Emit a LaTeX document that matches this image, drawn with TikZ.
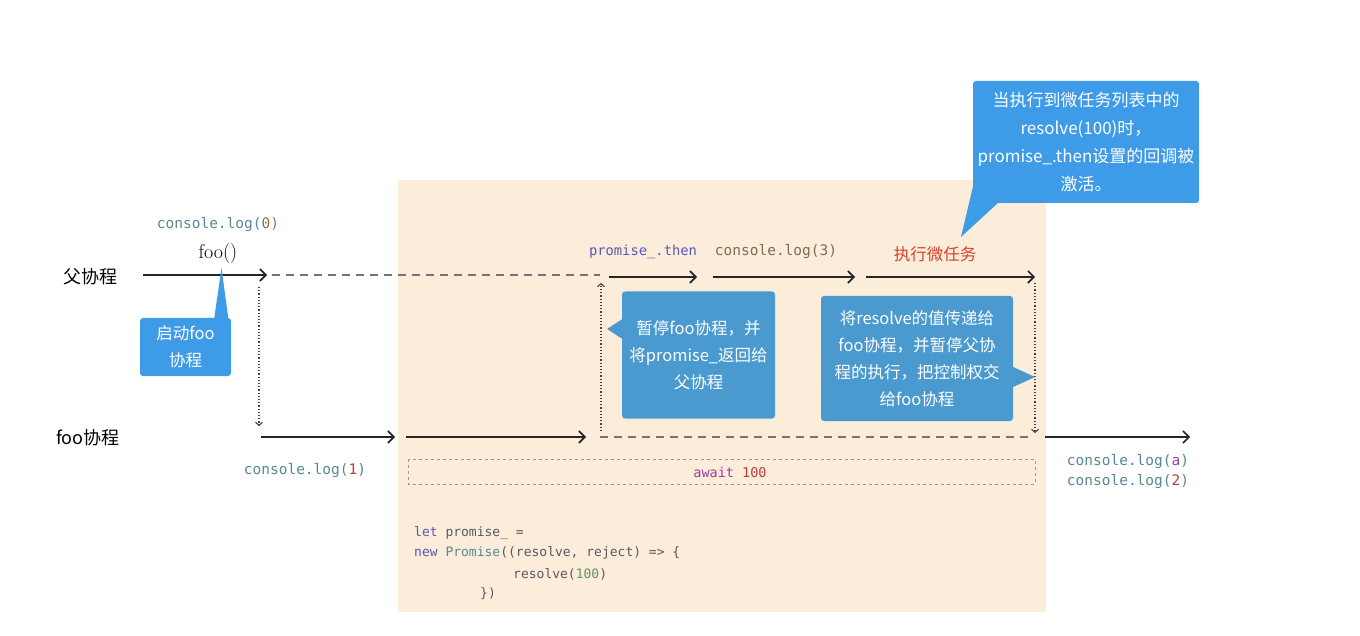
\documentclass[tikz,border=0pt]{standalone}
\usepackage{fontspec}
\setmonofont{DejaVu Sans Mono}
\newfontfamily\cjk{Noto Sans CJK SC}
\usetikzlibrary{arrows.meta}
\definecolor{peach}{RGB}{252,236,218}
\definecolor{blueA}{RGB}{62,155,232}
\definecolor{blueB}{RGB}{74,154,208}
\definecolor{tealtxt}{RGB}{88,138,148}
\definecolor{numbrown}{RGB}{140,110,70}
\definecolor{numred}{RGB}{190,60,60}
\definecolor{purptxt}{RGB}{160,60,168}
\definecolor{thentxt}{RGB}{88,88,185}
\definecolor{logbrown}{RGB}{125,110,85}
\definecolor{redtxt}{RGB}{215,65,45}
\definecolor{codegray}{RGB}{90,90,100}
\definecolor{codegreen}{RGB}{100,150,90}
\definecolor{dashgray}{RGB}{115,115,115}
\begin{document}
\begin{tikzpicture}[x=1pt,y=-1pt,
  arr/.style={line width=1.6pt,draw=black!85,-{Straight Barb[length=6pt,width=12pt,line width=1.6pt]}},
  dashln/.style={line width=1.4pt,draw=dashgray,dash pattern=on 8pt off 6pt},
  dotln/.style={line width=1.2pt,draw=black!75,dash pattern=on 1.2pt off 2pt,-{Straight Barb[length=3pt,width=7pt,line width=1.1pt]}},
  lbl/.style={font=\cjk\fontsize{18}{20}\selectfont,inner sep=0pt},
  mono/.style={font=\ttfamily\fontsize{14.5}{16}\selectfont,inner sep=0pt},
  code/.style={font=\ttfamily\fontsize{13}{15}\selectfont,inner sep=0pt,anchor=west,text=codegray},
  callout/.style={rounded corners=3pt,inner sep=0pt,align=center,text=white,font=\cjk\fontsize{16.5}{27}\selectfont}]
\fill[white] (0,0) rectangle (1360,636);
\useasboundingbox (0,0) rectangle (1360,636);
\fill[peach] (398,180) rectangle (1046,612);

% row labels
\node[lbl] (parent) at (90,277) {父协程};
\node[lbl] (foolbl) at (88,438) {foo协程};

% coordinates
\coordinate (p0) at (143,275);
\coordinate (p1) at (267,275);
\coordinate (p2) at (272,275);
\coordinate (p3) at (600,275);
\coordinate (d1a) at (259,287);
\coordinate (d1b) at (259,426);
\coordinate (f0) at (261,437);
\coordinate (f1) at (395,437);
\coordinate (f2) at (406,437);
\coordinate (f3) at (586,437);
\coordinate (f4) at (600,437);
\coordinate (f5) at (1030,437);
\coordinate (d2a) at (601,431);
\coordinate (d2b) at (601,283);
\coordinate (t0) at (609,277);
\coordinate (t1) at (697,277);
\coordinate (t2) at (713,277);
\coordinate (t3) at (855,277);
\coordinate (t4) at (866,277);
\coordinate (t5) at (1035,277);
\coordinate (d3a) at (1035,283);
\coordinate (d3b) at (1035,433);
\coordinate (r0) at (1045,437);
\coordinate (r1) at (1190,437);

\draw[arr] (p0) -- (p1);
\draw[dashln] (p2) -- (p3);
\draw[dotln] (d1a) -- (d1b);
\draw[arr] (f0) -- (f1);
\draw[arr] (f2) -- (f3);
\draw[dashln] (f4) -- (f5);
\draw[dotln] (d2a) -- (d2b);
\draw[arr] (t0) -- (t1);
\draw[arr] (t2) -- (t3);
\draw[arr] (t4) -- (t5);
\draw[dotln] (d3a) -- (d3b);
\draw[arr] (r0) -- (r1);

% text labels
\node[mono] (log0) at (218,225) {\textcolor{tealtxt}{console.log(}\textcolor{numbrown}{0}\textcolor{tealtxt}{)}};
\node[inner sep=0pt,font=\fontsize{20}{22}\selectfont] (foocall) at (218,254) {foo()};
\node[mono] (log1) at (305,471) {\textcolor{tealtxt}{console.log(}\textcolor{numred}{1}\textcolor{tealtxt}{)}};
\node[mono,font=\ttfamily\fontsize{13.8}{16}\selectfont,text=thentxt] (then) at (643,252) {promise\_.then};
\node[mono,text=logbrown] (log3) at (776,252) {console.log(3)};
\node[inner sep=0pt,font=\cjk\fontsize{16.5}{18}\selectfont,text=redtxt] (micro) at (935,254) {执行微任务};
\node[mono] (loga) at (1128,462) {\textcolor{tealtxt}{console.log(}\textcolor{purptxt}{a}\textcolor{tealtxt}{)}};
\node[mono] (log2) at (1128,482) {\textcolor{tealtxt}{console.log(}\textcolor{numred}{2}\textcolor{tealtxt}{)}};

% await box
\draw[line width=0.8pt,draw=black!40,dash pattern=on 3pt off 3pt] (408,459) rectangle (1035,484);
\node[font=\ttfamily\fontsize{13.5}{15}\selectfont,inner sep=0pt] (await) at (730,472) {\textcolor{purptxt}{await} \textcolor{numred}{100}};

% code
\node[code] (c1) at (414,533) {\textcolor{thentxt}{let} promise\_ =};
\node[code] (c2) at (414,553) {\textcolor{thentxt}{new} \textcolor{tealtxt}{Promise}((resolve, reject) => \{};
\node[code] (c3) at (513,574) {resolve(\textcolor{codegreen}{100})};
\node[code] (c4) at (480,594) {\})};

% callout 1
\fill[blueA] (214,320) -- (221.5,268) -- (228.5,320) -- cycle;
\node[callout,fill=blueA,minimum width=91pt,minimum height=58pt] (cb1) at (185.5,347) {启动foo\\协程};

% callout 2
\fill[blueB] (624,318) -- (607,329) -- (624,340) -- cycle;
\node[callout,fill=blueB,minimum width=153pt,minimum height=127pt] (cb2) at (698.5,355) {暂停foo协程，并\\将promise\_返回给\\父协程};

% callout 3
\fill[blueB] (1011,366) -- (1035,377) -- (1011,388) -- cycle;
\node[callout,fill=blueB,minimum width=192pt,minimum height=125pt] (cb3) at (917,358.5) {将resolve的值传递给\\foo协程，并暂停父协\\程的执行，把控制权交\\给foo协程};

% callout 4
\fill[blueA] (975,178) -- (961,237) -- (999,202) -- cycle;
\node[callout,fill=blueA,minimum width=226pt,minimum height=122pt,font=\cjk\fontsize{17}{28}\selectfont] (cb4) at (1086,142) {当执行到微任务列表中的\\resolve(100)时，\\promise\_.then设置的回调被\\激活。};
\end{tikzpicture}
\end{document}
